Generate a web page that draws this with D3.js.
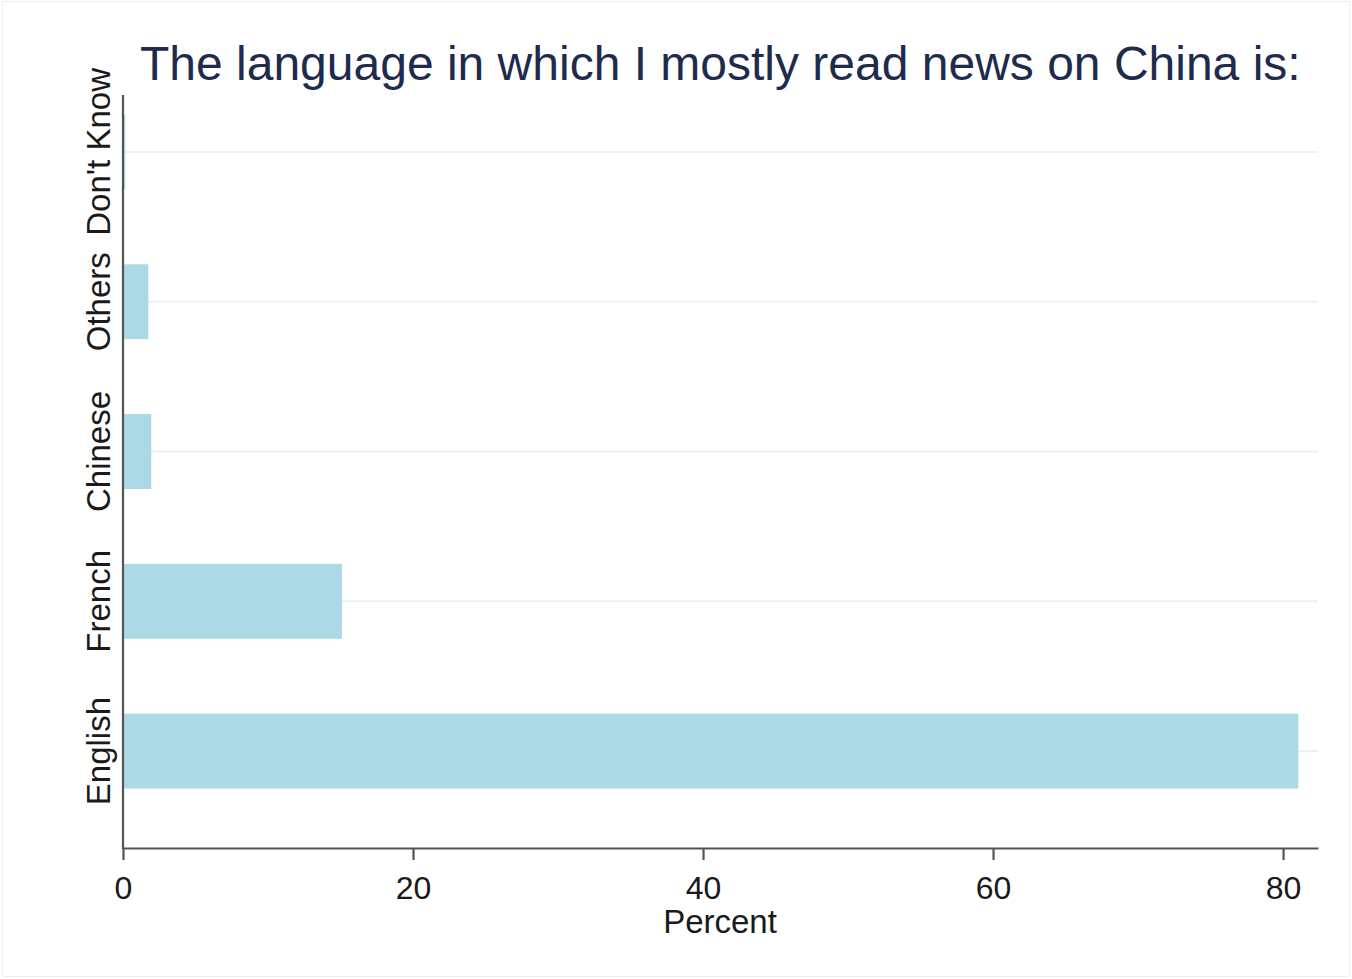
<!DOCTYPE html>
<html>
<head>
<meta charset="utf-8">
<script src="https://cdn.jsdelivr.net/npm/d3@7"></script>
<style>
  html, body { margin: 0; padding: 0; background: #fff; }
  svg { display: block; font-family: "Liberation Sans", Arial, sans-serif; }
</style>
</head>
<body>
<svg id="chart" width="1352" height="979"></svg>
<script>
const categories = ["Don't Know", "Others", "Chinese", "French", "English"];
const percents = [0.15, 1.75, 1.95, 15.1, 81.05];
const xTicks = [0, 20, 40, 60, 80];
const titleText = "The language in which I mostly read news on China is:";
const xLabel = "Percent";

const svg = d3.select("#chart");

// faint outer frame
svg.append("rect").attr("x", 2.5).attr("y", 1.5).attr("width", 1347).attr("height", 975)
  .attr("fill", "none").attr("stroke", "#eeeeee").attr("stroke-width", 1);

const x = d3.scaleLinear().domain([0, 82.41]).range([123, 1318]);
const y = d3.scaleBand().domain(categories).range([77, 826]).paddingInner(0.5).paddingOuter(0.25);

// grid lines at category centres
svg.append("g").selectAll("line").data(categories).join("line")
  .attr("x1", x(0)).attr("x2", x.range()[1])
  .attr("y1", d => y(d) + y.bandwidth() / 2).attr("y2", d => y(d) + y.bandwidth() / 2)
  .attr("stroke", "#e9f2f3").attr("stroke-width", 2);

// bars
svg.append("g").selectAll("rect").data(categories).join("rect")
  .attr("x", x(0))
  .attr("y", d => y(d))
  .attr("width", (d, i) => x(percents[i]) - x(0))
  .attr("height", y.bandwidth())
  .attr("fill", "#add8e6");

// x axis
const xAxis = d3.axisBottom(x).tickValues(xTicks).tickSize(12).tickPadding(16).tickSizeOuter(0);
const gx = svg.append("g").attr("transform", "translate(0,848)").call(xAxis);
gx.select(".domain").attr("stroke", "#555").attr("stroke-width", 2.2);
gx.selectAll(".tick line").attr("stroke", "#555").attr("stroke-width", 2.2);
gx.selectAll(".tick text").attr("font-size", 32).attr("fill", "#1a1a1a")
  .attr("font-family", "'Liberation Sans', Arial, sans-serif");

// y axis line
svg.append("line").attr("x1", 123).attr("x2", 123).attr("y1", 95).attr("y2", 849)
  .attr("stroke", "#555").attr("stroke-width", 2.2);

// category labels (rotated)
svg.append("g").selectAll("text").data(categories).join("text")
  .attr("transform", d => `translate(110,${y(d) + y.bandwidth() / 2}) rotate(-90)`)
  .attr("text-anchor", "middle")
  .attr("font-size", 33)
  .attr("fill", "#1a1a1a")
  .text(d => d);

// x label
svg.append("text").attr("x", 720).attr("y", 933).attr("text-anchor", "middle")
  .attr("font-size", 33).attr("fill", "#1a1a1a").text(xLabel);

// title
svg.append("text").attr("x", 140).attr("y", 80)
  .attr("font-size", 48).attr("fill", "#1f2b4d").text(titleText);
</script>
</body>
</html>
